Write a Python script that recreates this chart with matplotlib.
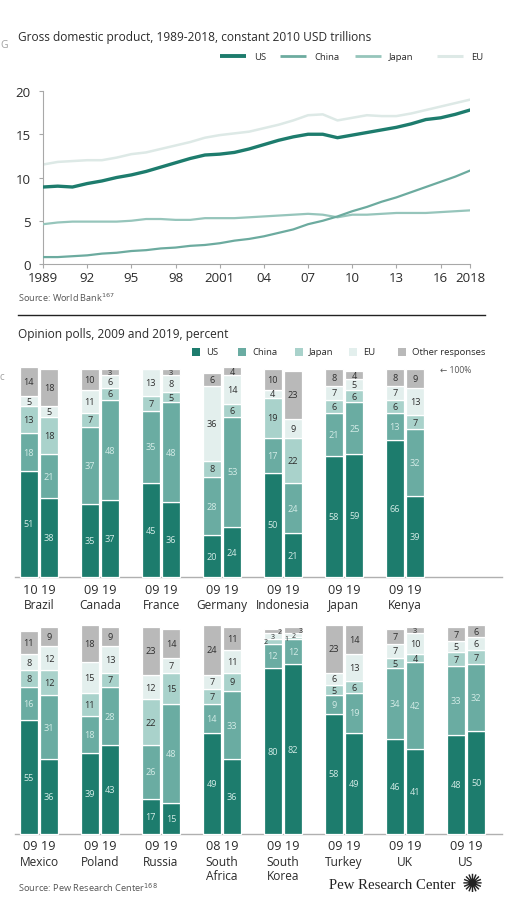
import matplotlib
matplotlib.use("Agg")
import matplotlib.pyplot as plt
from matplotlib.lines import Line2D
from matplotlib.patches import Rectangle

plt.rcParams['font.family'] = ['Open Sans', 'DejaVu Sans']

# ---------------- GDP data (constant 2010 USD trillions) ----------------
years = list(range(1989, 2019))
gdp_us = [8.9, 9.0, 8.9, 9.3, 9.6, 10.0, 10.3, 10.7, 11.2, 11.7, 12.2, 12.6, 12.7, 12.9, 13.3,
          13.8, 14.3, 14.7, 15.0, 15.0, 14.6, 14.9, 15.2, 15.5, 15.8, 16.2, 16.7, 16.9, 17.3, 17.8]
gdp_china = [0.8, 0.8, 0.9, 1.0, 1.2, 1.3, 1.5, 1.6, 1.8, 1.9, 2.1, 2.2, 2.4, 2.7, 2.9,
             3.2, 3.6, 4.0, 4.6, 5.0, 5.5, 6.1, 6.6, 7.2, 7.7, 8.3, 8.9, 9.5, 10.1, 10.8]
gdp_japan = [4.6, 4.8, 4.9, 4.9, 4.9, 4.9, 5.0, 5.2, 5.2, 5.1, 5.1, 5.3, 5.3, 5.3, 5.4,
             5.5, 5.6, 5.7, 5.8, 5.7, 5.4, 5.7, 5.7, 5.8, 5.9, 5.9, 5.9, 6.0, 6.1, 6.2]
gdp_eu = [11.5, 11.8, 11.9, 12.0, 12.0, 12.3, 12.7, 12.9, 13.3, 13.7, 14.1, 14.6, 14.9, 15.1, 15.3,
          15.7, 16.1, 16.6, 17.2, 17.3, 16.6, 16.9, 17.2, 17.1, 17.1, 17.4, 17.8, 18.2, 18.6, 19.0]
xticks = [1989, 1992, 1995, 1998, 2001, 2004, 2007, 2010, 2013, 2016, 2018]
xtick_labels = ['1989', '92', '95', '98', '2001', '04', '07', '10', '13', '16', '2018']
yticks = [0, 5, 10, 15, 20]
line_series = ['US', 'China', 'Japan', 'EU']

# ---------------- Opinion poll data (percent) ----------------
segments = ['US', 'China', 'Japan', 'EU', 'Other responses']
row1_countries = ['Brazil', 'Canada', 'France', 'Germany', 'Indonesia', 'Japan', 'Kenya']
row1_years = [('10', '19'), ('09', '19'), ('09', '19'), ('09', '19'), ('09', '19'), ('09', '19'), ('09', '19')]
row1_first = {
    'US':    [51, 35, 45, 20, 50, 58, 66],
    'China': [18, 37, 35, 28, 17, 21, 13],
    'Japan': [13, 7, 7, 8, 19, 6, 6],
    'EU':    [5, 11, 13, 36, 4, 7, 7],
    'Other responses': [14, 10, 0, 6, 10, 8, 8],
}
row1_second = {
    'US':    [38, 37, 36, 24, 21, 59, 39],
    'China': [21, 48, 48, 53, 24, 25, 32],
    'Japan': [18, 6, 5, 6, 22, 6, 7],
    'EU':    [5, 6, 8, 14, 9, 5, 13],
    'Other responses': [18, 3, 3, 4, 23, 4, 9],
}
row2_countries = ['Mexico', 'Poland', 'Russia', 'South\nAfrica', 'South\nKorea', 'Turkey', 'UK', 'US']
row2_years = [('09', '19'), ('09', '19'), ('09', '19'), ('08', '19'), ('09', '19'), ('09', '19'), ('09', '19'), ('09', '19')]
row2_first = {
    'US':    [55, 39, 17, 49, 80, 58, 46, 48],
    'China': [16, 18, 26, 14, 12, 9, 34, 33],
    'Japan': [8, 11, 22, 7, 2, 5, 5, 7],
    'EU':    [8, 15, 12, 7, 3, 6, 7, 5],
    'Other responses': [11, 18, 23, 24, 2, 23, 7, 7],
}
row2_second = {
    'US':    [36, 43, 15, 36, 82, 49, 41, 50],
    'China': [31, 28, 48, 33, 12, 19, 42, 32],
    'Japan': [12, 7, 15, 9, 1, 6, 4, 7],
    'EU':    [12, 13, 7, 11, 2, 13, 10, 6],
    'Other responses': [9, 9, 14, 11, 3, 14, 3, 6],
}

# ---------------- styles ----------------
C_US = '#1d7c6d'
C_CHINA = '#6aaca2'
C_JAPAN = '#a9d2cb'
C_EU = '#e3efed'
C_OTHER = '#b9b9b9'
seg_colors = [C_US, C_CHINA, C_JAPAN, C_EU, C_OTHER]
line_colors = {'US': C_US, 'China': '#6cab9f', 'Japan': '#96c5bb', 'EU': '#dde9e6'}
line_widths = {'US': 2.4, 'China': 1.6, 'Japan': 1.6, 'EU': 1.8}
TXT = '#2b2b2b'

W, H = 520, 920
fig = plt.figure(figsize=(W / 100, H / 100), dpi=100)
fig.patch.set_facecolor('white')


def rect(l, t, r, b):
    return [l / W, 1 - b / H, (r - l) / W, (b - t) / H]


def fxy(x, y):
    return x / W, 1 - y / H


# ---------------- top: line chart ----------------
fig.text(*fxy(18, 37), 'Gross domestic product, 1989-2018, constant 2010 USD trillions',
         fontsize=8.6, color=TXT, va='center', ha='left')
fig.text(*fxy(0, 46), 'G', fontsize=7.5, color='#a0a0a0', va='center', ha='left')

ax = fig.add_axes(rect(43, 92, 470, 265))
series = {'US': gdp_us, 'China': gdp_china, 'Japan': gdp_japan, 'EU': gdp_eu}
zorders = {'EU': 2, 'Japan': 3, 'China': 3, 'US': 4}
for name in ['EU', 'Japan', 'China', 'US']:
    ax.plot(years, series[name], color=line_colors[name], lw=line_widths[name], zorder=zorders[name])
ax.set_xlim(1989, 2018)
ax.set_ylim(0, 20)
ax.set_xticks(xticks)
ax.set_xticklabels(xtick_labels)
ax.set_yticks(yticks)
for s in ['top', 'right']:
    ax.spines[s].set_visible(False)
for s in ['left', 'bottom']:
    ax.spines[s].set_color('#a8a8a8')
    ax.spines[s].set_linewidth(0.8)
ax.tick_params(axis='both', colors='#a8a8a8', length=3, width=0.8, labelcolor=TXT, labelsize=9.5)
ax.tick_params(axis='x', pad=2)
ax.tick_params(axis='y', pad=6)

# legend (manual placement)
leg_x = [220, 280, 355, 437]
for name, x0 in zip(line_series, leg_x):
    fig.add_artist(Line2D([x0 / W, (x0 + 26) / W], [1 - 57 / H] * 2, color=line_colors[name],
                          lw=line_widths[name] + 0.4, solid_capstyle='butt'))
    fig.text(*fxy(x0 + 34, 57), name, fontsize=6.8, color=TXT, va='center', ha='left')

fig.text(*fxy(18, 298), 'Source: World Bank$^{167}$', fontsize=6.6, color='#555555', va='center', ha='left')

# separator line
fig.add_artist(Line2D([18 / W, 485 / W], [1 - 316 / H, 1 - 316 / H], color='#222222', lw=1.0))

# ---------------- bottom: stacked bars ----------------
fig.text(*fxy(18, 335), 'Opinion polls, 2009 and 2019, percent', fontsize=8.6, color=TXT,
         va='center', ha='left')
fig.text(*fxy(0, 377), 'c', fontsize=7, color='#a0a0a0', va='center', ha='left')

sq_x = [192, 238, 295, 349, 398]
for k, (seg, x0) in enumerate(zip(segments, sq_x)):
    fig.add_artist(Rectangle((x0 / W, 1 - 357 / H), 8 / W, 8 / H, transform=fig.transFigure,
                             facecolor=seg_colors[k], edgecolor='none'))
    fig.text(*fxy(x0 + 14, 353), seg, fontsize=6.8, color=TXT, va='center', ha='left')

fig.text(*fxy(440, 371), '\u2190 100%', fontsize=6.2, color='#555555', va='center', ha='left')

GROUP0 = 39.0
STEP = 61.0
xlim = ((0 - GROUP0) / STEP, (W - GROUP0) / STEP)
OFF = 10.2 / STEP
BW = 18.0 / STEP
PX = 1.0 / STEP


def draw_row(top, bottom, countries, yrs, first, second):
    a = fig.add_axes(rect(0, top, W, bottom))
    a.set_xlim(*xlim)
    a.set_ylim(0, 100)
    a.axis('off')
    a.plot([(15 - GROUP0) / STEP, (W - 18 - GROUP0) / STEP], [0, 0], color='#b0b0b0', lw=1.0,
           clip_on=False, zorder=1)
    n = len(countries)
    pxh = (bottom - top) / 100.0
    for data, sign in [(first, -1), (second, 1)]:
        xs = [i + sign * OFF for i in range(n)]
        base = [0.0] * n
        for k, seg in enumerate(segments):
            vals = data[seg]
            a.bar(xs, vals, width=BW, bottom=base, color=seg_colors[k], edgecolor='white',
                  linewidth=0.9, clip_on=False, zorder=2)
            for i in range(n):
                v = vals[i]
                if v <= 0:
                    continue
                col = '#d3ebe6' if k < 2 else '#2f2f2f'
                fs = 6.6 if v > 3 else 5.4
                xx = xs[i]
                prev_small = k > 0 and data[segments[k - 1]][i] < 4
                next_small = k < 4 and data[segments[k + 1]][i] < 4
                if v < 4 and (prev_small or next_small):
                    xx = xs[i] + (k - 3) * 7 * PX
                    fs = 5.0
                a.text(xx, base[i] + v / 2, str(v), ha='center', va='center', fontsize=fs,
                       color=col, zorder=3, clip_on=False)
            base = [base[i] + vals[i] for i in range(n)]
    for i in range(n):
        a.text(i, -12.0 / pxh, f'{yrs[i][0]} {yrs[i][1]}', ha='center', va='center', fontsize=9.2,
               color=TXT)
        a.text(i, -21.0 / pxh, countries[i], ha='center', va='top', fontsize=8.6, color=TXT,
               linespacing=1.1)
    return a


draw_row(370, 578, row1_countries, row1_years, row1_first, row1_second)
draw_row(628, 835, row2_countries, row2_years, row2_first, row2_second)

fig.text(*fxy(18, 888), 'Source: Pew Research Center$^{168}$', fontsize=6.7, color='#555555',
         va='center', ha='left')
fig.text(*fxy(329, 886), 'Pew Research Center', fontsize=10.6, color='#222222', va='center', ha='left',
         family=['Liberation Serif', 'DejaVu Serif'])
fig.text(*fxy(472, 885), '\u273A', fontsize=18, color='#222222', va='center', ha='center',
         family=['DejaVu Sans'])

fig.savefig('out.png', dpi=100, facecolor='white')
